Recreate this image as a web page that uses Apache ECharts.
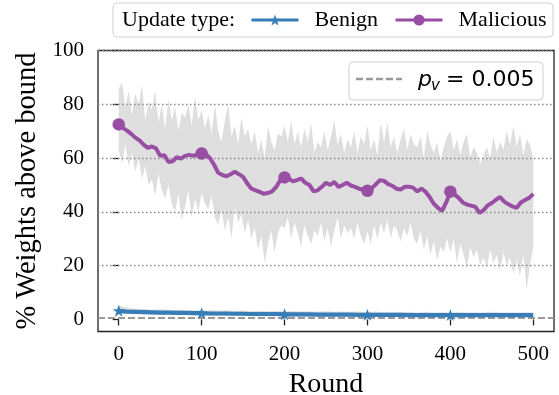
<!DOCTYPE html>
<html><head><meta charset="utf-8">
<script src="https://cdn.jsdelivr.net/npm/echarts@6/dist/echarts.min.js"></script>
<style>html,body{margin:0;padding:0;background:#fff}#c{width:559px;height:395px}</style>
</head><body><div id="c"></div>
<script>
// ---------------- data ----------------
const maliciousStep = 5; // rounds between mean samples
const maliciousMean = [
  72.5,71.2,70.2,69,67.6,66.6,65,63.8,64.3,63.6,
  60.8,61.1,58.5,58.8,60.3,59.8,60.8,61.2,60.8,61.4,
  61.7,61.5,60,57.5,54.5,53.7,53.2,54,54.9,54,
  53,50.6,48.6,48,47.4,46.7,47,47.6,49.3,51.8,
  52.8,52.5,51.3,51.8,52.4,50.8,50,47.6,48,49.3,
  50.8,50,51.1,49.3,50,50.8,49.8,49.3,48.6,48.2,
  47.8,48.8,50.2,51.8,51.5,50.3,49.7,48.6,48.3,49.3,
  49.3,49,47.6,48.6,47.5,45.5,43,41.5,40.4,43.5,
  47.5,46.5,45.2,43.5,42.7,42.3,41.9,39.6,40.6,42.4,
  43.3,44.5,45.5,43.8,42.8,42,41.5,43.5,44.4,45.2,
  46.7
];
const maliciousBandStep = 4;
const maliciousUpper = [
  86,88,79,85,76,84,80,87,74,81,
  78,85,73,80,71,82,74,79,70,77,
  75,80,72,83,74,78,71,76,69,80,
  70,66,74,80,68,72,65,75,68,71,
  65,70,62,67,60,72,66,63,69,68,
  72,66,74,65,70,64,71,66,73,62,
  66,64,70,63,68,74,65,69,62,67,
  64,70,62,68,65,72,63,67,61,73,
  66,73,64,68,62,67,71,63,69,65,
  64,68,60,70,65,62,66,59,64,68,
  70,63,67,61,66,69,60,64,62,58,
  61,64,60,68,62,66,63,70,65,72,
  64,69,61,67,65,60
];
const maliciousLower = [
  63,58,65,57,62,55,60,52,57,50,
  52,46,54,48,45,50,43,40,47,37,
  42,48,38,45,40,47,43,41,46,38,
  35,41,33,38,30,42,36,39,32,37,
  30,34,26,31,21,28,33,25,32,35,
  34,38,30,36,32,27,35,31,28,33,
  31,36,29,34,27,33,38,30,35,32,
  34,30,36,31,28,33,28,35,30,36,
  32,37,30,35,33,29,34,31,36,30,
  28,33,26,31,24,29,22,27,25,30,
  25,30,21,28,24,19,27,23,26,20,
  23,19,26,21,24,18,25,20,23,17,
  22,16,24,11,20,27
];
const benignStep = 10;
const benignMean = [
  3.2,2.9,2.8,2.7,2.6,2.5,2.5,2.4,2.4,2.3,
  2.3,2.2,2.2,2.2,2.1,2.1,2.0,2.0,2.0,2.0,
  1.9,1.9,1.9,1.9,1.8,1.8,1.8,1.8,1.8,1.7,
  1.7,1.7,1.7,1.7,1.7,1.6,1.6,1.6,1.6,1.6,
  1.6,1.6,1.6,1.6,1.6,1.6,1.6,1.6,1.6,1.6,
  1.6
];
const benignUpper = [
  5.2,4.3,4.0,3.9,3.6,3.8,3.5,3.6,3.4,3.5,
  3.3,3.4,3.2,3.4,3.1,3.3,3.0,3.2,3.0,3.1,
  2.9,3.1,2.9,3.0,2.8,3.0,2.8,2.9,2.8,2.9,
  2.7,2.9,2.7,2.8,2.7,2.8,2.6,2.8,2.6,2.7,
  2.6,2.8,2.6,2.7,2.6,2.8,2.6,2.7,2.6,2.7,
  2.6
];
const benignLower = [
  2.2,2.1,2.0,1.9,1.8,1.7,1.7,1.6,1.6,1.5,
  1.5,1.4,1.4,1.4,1.3,1.3,1.2,1.2,1.2,1.2,
  1.1,1.1,1.1,1.1,1.0,1.0,1.0,1.0,1.0,0.9,
  0.9,0.9,0.9,0.9,0.9,0.8,0.8,0.8,0.8,0.8,
  0.8,0.8,0.8,0.8,0.8,0.8,0.8,0.8,0.8,0.8,
  0.8
];
const markerRounds = [0,100,200,300,400];
const xTicks = [0,100,200,300,400,500];
const yTicks = [0,20,40,60,80,100];
const gridLevels = [20,40,60,80,100];
const pvPercent = 0.5; // p_v = 0.005
const seriesNames = ['Benign','Malicious'];

// ---------------- build ----------------
const C_MAL = '#984ea3', C_BEN = '#377eb8', C_BAND = 'rgba(200,200,200,0.6)';
const SERIF = '"Liberation Serif","Times New Roman",serif';
const STAR = 'path://M50,0 L63,36 L100,36 L70,58 L81,95 L50,72 L19,95 L30,58 L0,36 L37,36 Z';

function withMarkers(arr, step){
  return arr.map((v,i)=>{
    const r = i*step;
    return markerRounds.includes(r) ? {value:[r,v]} : {value:[r,v], symbol:'none'};
  });
}
function band(up, lo, step){
  return {type:'custom', silent:true, z:1, animation:false, clip:true,
    data:[[0, lo[0]]],
    renderItem:function(params, api){
      const pts = [];
      for (let i=0;i<up.length;i++) pts.push(api.coord([i*step, up[i]]));
      for (let i=lo.length-1;i>=0;i--) pts.push(api.coord([i*step, lo[i]]));
      return {type:'polygon', shape:{points:pts}, style:{fill:C_BAND, stroke:null}};
    }};
}

const chart = echarts.init(document.getElementById('c'), null, {renderer:'canvas'});
const option = {
  animation:false,
  backgroundColor:'#fff',
  grid:{left:98, right:5, top:50.5, bottom:63.5, outerBoundsMode:'none', containLabel:false,
    show:true, borderColor:'#222', borderWidth:1.3, backgroundColor:'transparent'},
  xAxis:{type:'value', min:-25, max:525,
    axisLine:{show:false}, splitLine:{show:false},
    axisTick:{show:true, customValues:xTicks, length:6, lineStyle:{color:'#222', width:1.3}},
    axisLabel:{customValues:xTicks, fontFamily:SERIF, fontSize:21, color:'#000', margin:12},
    name:'Round', nameLocation:'middle', nameGap:39,
    nameTextStyle:{fontFamily:SERIF, fontSize:28, color:'#000'}},
  yAxis:{type:'value', min:-4.5, max:100,
    axisLine:{show:false}, splitLine:{show:false},
    axisTick:{show:true, customValues:yTicks, length:6, lineStyle:{color:'#222', width:1.3}},
    axisLabel:{customValues:yTicks, fontFamily:SERIF, fontSize:21, color:'#000', margin:14},
    name:'% Weights above bound', nameLocation:'middle', nameGap:56,
    nameTextStyle:{fontFamily:SERIF, fontSize:28.5, color:'#000'}},
  legend:{data:seriesNames, left:250, top:9, padding:0, itemWidth:47, itemHeight:14, itemGap:16,
    lineStyle:{width:3},
    textStyle:{fontFamily:SERIF, fontSize:22, color:'#000', padding:[0,0,0,11], lineHeight:22}},
  graphic:[
    {type:'rect', shape:{x:113, y:3, width:440, height:34, r:4}, style:{fill:'#fff', stroke:'#d0d0d0', lineWidth:1}, z:-1},
    {type:'text', style:{x:122, y:20, text:'Update type:', font:'22px '+SERIF, fill:'#000', verticalAlign:'middle'}},
    {type:'rect', shape:{x:349, y:62, width:194, height:38, r:4}, style:{fill:'rgba(255,255,255,0.85)', stroke:'#d0d0d0', lineWidth:1}, z:100},
    {type:'line', shape:{x1:356, y1:79, x2:402, y2:79}, style:{stroke:'#999', lineWidth:2.4, lineDash:[7,3]}, z:101},
    {type:'text', style:{x:418, y:80, text:'p', font:'italic 22px "DejaVu Sans"', fill:'#000', verticalAlign:'middle'}, z:101},
    {type:'text', style:{x:431, y:86, text:'v', font:'italic 15px "DejaVu Sans"', fill:'#000', verticalAlign:'middle'}, z:101},
    {type:'text', style:{x:446, y:80, text:'= 0.005', font:'22px "DejaVu Sans"', fill:'#000', verticalAlign:'middle'}, z:101}
  ],
  series:[
    band(maliciousUpper, maliciousLower, maliciousBandStep),
    band(benignUpper, benignLower, benignStep),
    {type:'line', name:'grid', data:[], silent:true, z:2,
      markLine:{silent:true, symbol:'none', z:2, label:{show:false}, animation:false,
        lineStyle:{type:[1.5,2.5], color:'#8a8a8a', width:1.3},
        data:gridLevels.map(v=>({yAxis:v}))}},
    {type:'line', name:'pv', data:[], silent:true, z:3,
      markLine:{silent:true, symbol:'none', z:3, label:{show:false}, animation:false,
        lineStyle:{type:[7,3], color:'#999', width:2.2},
        data:[{yAxis:pvPercent}]}},
    {type:'line', name:seriesNames[0], data:withMarkers(benignMean, benignStep), z:4,
      symbol:STAR, symbolSize:12, showAllSymbol:true, color:C_BEN,
      lineStyle:{width:4.2, color:C_BEN}, itemStyle:{color:C_BEN}},
    {type:'line', name:seriesNames[1], data:withMarkers(maliciousMean, maliciousStep), z:4,
      symbol:'circle', symbolSize:12.5, showAllSymbol:true, color:C_MAL,
      lineStyle:{width:4, color:C_MAL}, itemStyle:{color:C_MAL}}
  ]
};
chart.setOption(option);
</script>
</body></html>
